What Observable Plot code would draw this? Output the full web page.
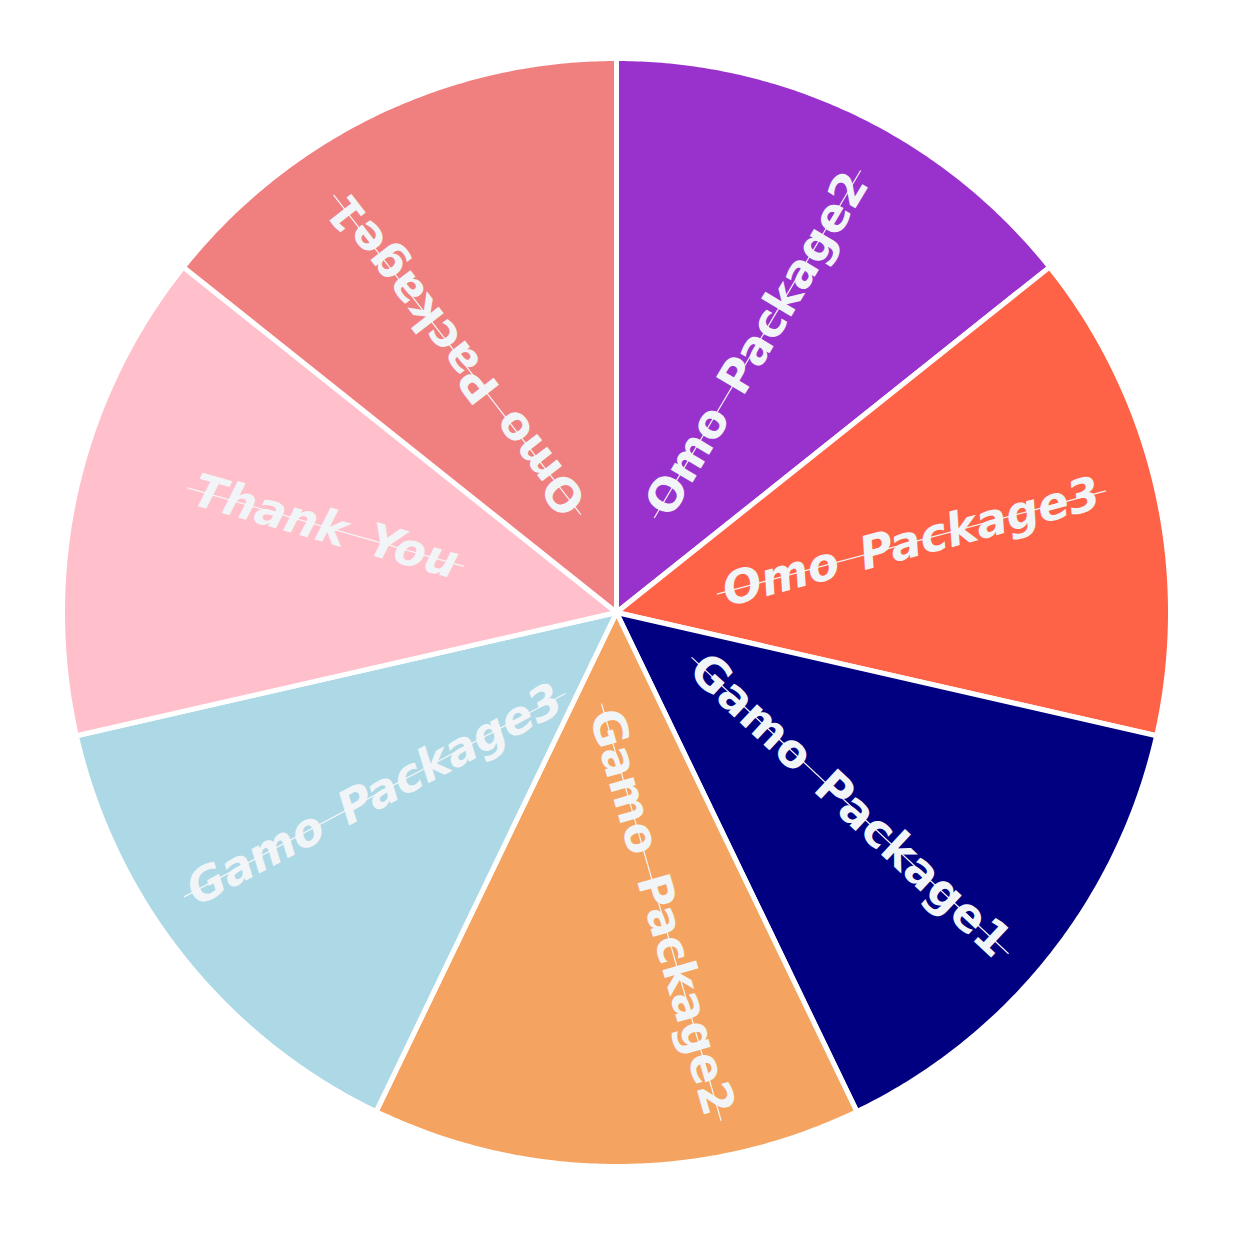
<!DOCTYPE html>
<html><head><meta charset="utf-8">
<script src="https://cdn.jsdelivr.net/npm/d3@7"></script>
<script src="https://cdn.jsdelivr.net/npm/@observablehq/plot@0.6"></script>
<style>body{margin:0;background:#fff}</style>
</head><body><div id="chart"></div>
<script>
// ---- data ----
const categories = ["Omo_Package2","Omo_Package3","Gamo_Package1","Gamo_Package2","Gamo_Package3","Thank_You","Omo_Package1"];
const values = [1,1,1,1,1,1,1];
const colors = ["#9932CC","#FF6347","#000080","#F4A460","#ADD8E6","#FFC0CB","#F08080"];

// ---- label styling (orientation tweaks, degrees) ----
const labelShift = [2, -0.5, 1, -8.5, 1.5, 3.5, -6];
const labelTilt  = [5, -2, 4.5, -16, 10.5, 3, -12];
const labelItalic = [false, true, false, false, true, true, false];

const RPX = 554;
const FONT_SIZE = 46;
const FONT = "DejaVu Sans";
const LABEL_R = 0.547;

const arcs = d3.pie().sort(null).value(d => d)(values);

// slice polygons (geometry computed from the pie layout)
const polys = [];
arcs.forEach((a, i) => {
  const n = 120;
  polys.push({cat: categories[i], px: 0, py: 0});
  for (let k = 0; k <= n; k++) {
    const t = a.startAngle + (a.endAngle - a.startAngle) * k / n;
    polys.push({cat: categories[i], px: Math.sin(t), py: Math.cos(t)});
  }
});

const ctx = document.createElement("canvas").getContext("2d");

const labels = arcs.map((a, i) => {
  const mid = (a.startAngle + a.endAngle) / 2 * 180 / Math.PI;
  const deg = mid + labelShift[i];
  const t = deg * Math.PI / 180;
  const flip = mid > 200 && mid < 320;
  const text = categories[i].replace(/_/g, "\u2002");
  ctx.font = `${labelItalic[i] ? "italic " : ""}bold ${FONT_SIZE}px "${FONT}"`;
  const len = ctx.measureText(text).width;
  const rot = (flip ? mid + 90 : mid - 90) + labelTilt[i];
  const half = (len / 2 + 7) / RPX;
  const cx = LABEL_R * Math.sin(t), cy = LABEL_R * Math.cos(t);
  // direction of text baseline in data space (y up)
  const r = rot * Math.PI / 180;
  const dx = Math.cos(r), dy = -Math.sin(r);
  return {
    text, cx, cy, rotate: rot, italic: labelItalic[i],
    x1: cx - half * dx, y1: cy - half * dy,
    x2: cx + half * dx, y2: cy + half * dy
  };
});

const textOpts = {x: "cx", y: "cy", text: "text", rotate: "rotate", fill: "#f2f5f7", fontSize: FONT_SIZE, fontWeight: "bold", fontFamily: FONT};

const chart = Plot.plot({
  width: 1250,
  height: 1250,
  margin: 0,
  x: {domain: [-1, 1], range: [62, 1170], axis: null},
  y: {domain: [-1, 1], range: [1166, 58], axis: null},
  color: {domain: categories, range: colors},
  marks: [
    Plot.line(polys, {x: "px", y: "py", z: "cat", fill: "cat", stroke: "white", strokeWidth: 5, strokeLinejoin: "round", curve: "linear-closed"}),
    Plot.text(labels.filter(d => !d.italic), textOpts),
    Plot.text(labels.filter(d => d.italic), {...textOpts, fontStyle: "italic"}),
    Plot.link(labels, {x1: "x1", y1: "y1", x2: "x2", y2: "y2", stroke: "#f4f6f8", strokeWidth: 1.2})
  ]
});
document.getElementById("chart").append(chart);
</script>
</body></html>
